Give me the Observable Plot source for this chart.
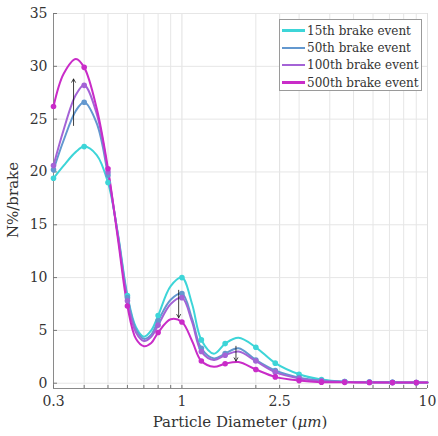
<!DOCTYPE html>
<html>
<head>
<meta charset="utf-8">
<script src="https://cdn.jsdelivr.net/npm/d3@7"></script>
<script src="https://cdn.jsdelivr.net/npm/@observablehq/plot@0.6"></script>
<style>
  html, body { margin: 0; padding: 0; background: #fff; }
  #wrap { position: relative; width: 438px; height: 436px; font-family: "DejaVu Serif", "Liberation Serif", "Times New Roman", serif; }
  #legend { position: absolute; left: 279px; top: 19px; width: 143px; height: 72px; border: 1px solid #9a9a9a; background: #fff; box-sizing: border-box; padding-top: 2px; }
  .row { display: flex; align-items: center; height: 17.3px; font-size: 12px; color: #333; white-space: nowrap; }
  .sw { width: 23px; height: 2.5px; margin-left: 2px; margin-right: 2px; }
  svg text { font-family: "DejaVu Serif", "Liberation Serif", "Times New Roman", serif !important; }
</style>
</head>
<body>
<div id="wrap"><div id="chart"></div><div id="legend"></div></div>
<script>
// ---- data ----
const diameters = [0.3, 0.33, 0.37, 0.4, 0.45, 0.5, 0.55, 0.6, 0.65, 0.7, 0.75, 0.8, 0.9, 1.0, 1.1, 1.2, 1.35, 1.5, 1.7, 2.0, 2.4, 3.0, 3.7, 4.6, 5.8, 7.2, 9.0, 10];
const ev15  = [19.4, 20.6, 21.9, 22.4, 21.6, 19.0, 14.0, 8.3, 5.3, 4.4, 5.0, 6.4, 9.2, 10.0, 7.5, 4.1, 2.8, 3.75, 4.3, 3.4, 1.9, 0.85, 0.35, 0.15, 0.1, 0.08, 0.06, 0.06];
const ev50  = [20.2, 23.0, 25.8, 26.6, 24.6, 19.7, 13.9, 8.1, 5.1, 4.2, 4.6, 5.9, 7.9, 8.5, 6.1, 3.3, 2.35, 2.8, 3.3, 2.2, 1.2, 0.53, 0.25, 0.15, 0.1, 0.08, 0.06, 0.06];
const ev100 = [20.6, 24.0, 27.3, 28.2, 25.5, 20.0, 13.8, 7.8, 4.8, 4.0, 4.4, 5.5, 7.5, 8.1, 5.8, 3.0, 2.2, 2.65, 3.0, 2.1, 1.05, 0.45, 0.2, 0.12, 0.08, 0.07, 0.06, 0.06];
const ev500 = [26.2, 29.3, 30.7, 29.9, 26.0, 20.3, 13.5, 7.3, 4.2, 3.5, 3.8, 4.8, 6.05, 5.8, 4.0, 2.1, 1.55, 1.85, 2.0, 1.3, 0.6, 0.25, 0.1, 0.08, 0.07, 0.06, 0.06, 0.06];
const markerDiameters = [0.3, 0.4, 0.5, 0.6, 0.8, 1.0, 1.2, 1.5, 2.0, 2.4, 3.0, 3.7, 4.6, 5.8, 7.2, 9.0];
const seriesNames = ["15th brake event", "50th brake event", "100th brake event", "500th brake event"];
const seriesColors = ["#3dd5d8", "#6398cf", "#a463d6", "#c92cc8"];
const xTickValues = [0.3, 1, 2.5, 10];
const xTickLabels = ["0.3", "1", "2.5", "10"];
const xMinor = [0.4, 0.5, 0.6, 0.7, 0.8, 0.9, 2, 3, 4, 5, 6, 7, 8, 9];
const yTickValues = [0, 5, 10, 15, 20, 25, 30, 35];
// arrows: [x, yFrom, yTo]
const arrowX    = [0.362, 0.97, 1.66];
const arrowFrom = [24.4, 8.8, 3.5];
const arrowTo   = [28.8, 6.2, 2.1];

// ---- build tables ----
const allSeries = [ev15, ev50, ev100, ev500];
const rows = [];
const markerRows = [];
allSeries.forEach((vals, si) => {
  diameters.forEach((d, i) => {
    const r = {series: seriesNames[si], d, v: vals[i]};
    rows.push(r);
    if (markerDiameters.includes(d)) markerRows.push(r);
  });
});
const arrows = arrowX.map((x, i) => ({x, y1: arrowFrom[i], y2: arrowTo[i]}));

const serif = '"DejaVu Serif", "Liberation Serif", "Times New Roman", serif';
const chart = Plot.plot({
  width: 438, height: 436,
  marginLeft: 53, marginRight: 11, marginTop: 13, marginBottom: 48,
  style: {fontFamily: serif, fontSize: "14px", color: "#333", background: "#fff"},
  x: {type: "log", domain: [0.3, 10]},
  y: {domain: [-0.5, 35]},
  color: {domain: seriesNames, range: seriesColors},
  marks: [
    Plot.gridX(xMinor, {stroke: "#e6e6e6", strokeOpacity: 1}),
    Plot.gridX(xTickValues, {stroke: "#e0e0e0", strokeOpacity: 1}),
    Plot.gridY(yTickValues, {stroke: "#e6e6e6", strokeOpacity: 1}),
    Plot.ruleX([0.3], {stroke: "#8a8a8a", strokeWidth: 1}),
    Plot.ruleY([-0.5], {stroke: "#8a8a8a", strokeWidth: 1.2}),
    Plot.axisX({ticks: xTickValues, tickFormat: (d) => xTickLabels[xTickValues.indexOf(d)], tickSize: 0, tickPadding: 8, label: null, fontSize: 14}),
    Plot.axisX({ticks: [...xTickValues, ...xMinor], tickFormat: () => "", tickSize: -3, stroke: "#777", label: null}),
    Plot.axisY({ticks: yTickValues, tickSize: 0, tickPadding: 6, label: null, fontSize: 14}),
    Plot.axisY({ticks: yTickValues, tickSize: -4, tickFormat: () => "", stroke: "#777", label: null}),
    Plot.line(rows, {x: "d", y: "v", stroke: "series", z: "series", curve: "catmull-rom", strokeWidth: 2}),
    Plot.dot(markerRows, {x: "d", y: "v", fill: "series", r: 2.8}),
    Plot.arrow(arrows, {x1: "x", x2: "x", y1: "y1", y2: "y2", stroke: "#111", strokeWidth: 0.8, headLength: 7})
  ]
});

// axis titles as SVG text
const svg = d3.select(chart);
svg.append("text")
  .attr("x", 240).attr("y", 427)
  .attr("text-anchor", "middle")
  .attr("fill", "#333")
  .style("font-size", "15px")
  .html('Particle Diameter (<tspan font-style="italic">μm</tspan>)');
svg.append("text")
  .attr("transform", "translate(18,200) rotate(-90)")
  .attr("text-anchor", "middle")
  .attr("fill", "#333")
  .style("font-size", "15px")
  .text("N%/brake");

document.getElementById("chart").appendChild(chart);

// legend
const legend = document.getElementById("legend");
seriesNames.forEach((name, i) => {
  const row = document.createElement("div");
  row.className = "row";
  const sw = document.createElement("div");
  sw.className = "sw";
  sw.style.background = seriesColors[i];
  const t = document.createElement("span");
  t.textContent = name;
  row.appendChild(sw);
  row.appendChild(t);
  legend.appendChild(row);
});
</script>
</body>
</html>
